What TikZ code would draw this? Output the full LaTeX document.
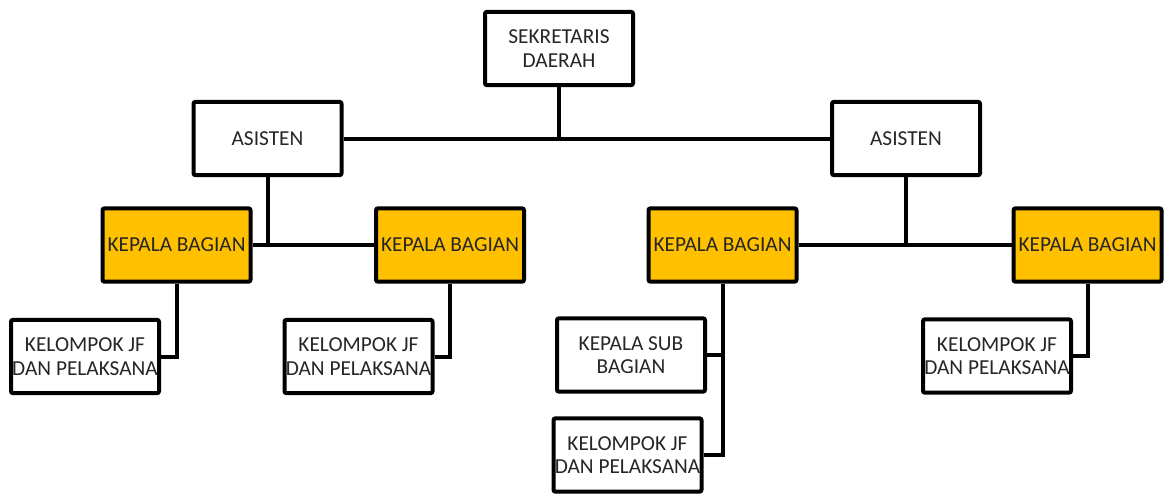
\documentclass[tikz,border=0pt]{standalone}
\usepackage{fontspec}
\setmainfont{Carlito}
\usetikzlibrary{positioning}
\definecolor{bagianfill}{HTML}{FFC000}
\definecolor{teks}{HTML}{262626}
\tikzset{
    org/.style={x=0.75pt,y=-0.75pt,line width=3pt},
    unit/.style={rectangle,draw,fill=white,rounded corners=1.5pt,
                 minimum width=111pt,minimum height=55pt,inner sep=0pt,
                 align=center,text=teks,font=\fontsize{16}{17.5}\selectfont},
    bagian/.style={unit,fill=bagianfill},
    }
\begin{document}
\begin{tikzpicture}[org]
            \useasboundingbox (0,0) rectangle (1165,497);
            \node[unit] (sekda) at (559,48.5) {SEKRETARIS\\DAERAH};
            \node[unit] (ast1) at (267.5,138.5) {ASISTEN};
            \node[unit] (ast2) at (906,138.5) {ASISTEN};
            \node[bagian] (kb1) at (176.5,245) {KEPALA BAGIAN};
            \node[bagian] (kb2) at (450,245) {KEPALA BAGIAN};
            \node[bagian] (kb3) at (722.5,245) {KEPALA BAGIAN};
            \node[bagian] (kb4) at (1087.5,245) {KEPALA BAGIAN};
            \node[unit] (kj1) at (85,356.5) {KELOMPOK JF\\DAN PELAKSANA};
            \node[unit] (kj2) at (358.5,356.5) {KELOMPOK JF\\DAN PELAKSANA};
            \node[unit] (ksb) at (631,355) {KEPALA SUB\\BAGIAN};
            \node[unit] (kj3) at (627.5,455) {KELOMPOK JF\\DAN PELAKSANA};
            \node[unit] (kj4) at (997,356) {KELOMPOK JF\\DAN PELAKSANA};

            \draw (sekda) -- (sekda |- ast1.east);
            \draw (ast1) -- (ast2);
            \draw (ast1) -- (ast1 |- kb1.east);
            \draw (ast2) -- (ast2 |- kb3.east);
            \draw (kb1) -- (kb2);
            \draw (kb3) -- (kb4);
            \draw (kb1.south) |- (kj1.east);
            \draw (kb2.south) |- (kj2.east);
            \draw (kb3.south) |- (ksb.east);
            \draw (kb3.south) |- (kj3.east);
            \draw (kb4.south) |- (kj4.east);
        \end{tikzpicture}
\end{document}
